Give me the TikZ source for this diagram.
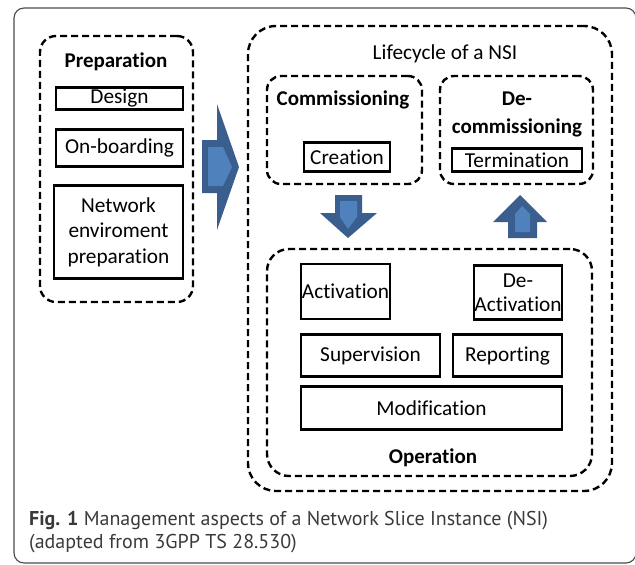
\documentclass[tikz,border=0pt]{standalone}
\usepackage{fontspec}
\setmainfont{Carlito}[Ligatures={NoCommon}]
\newfontfamily\capfont{PT Sans}
\definecolor{arrowfill}{HTML}{4F81BD}
\definecolor{arrowline}{HTML}{3A5F8E}
\definecolor{framecol}{HTML}{4A4A4A}
\definecolor{captext}{HTML}{3A3A3A}
\begin{document}
\begin{tikzpicture}[x=1pt,y=-1pt,
  dbox/.style={draw,dash pattern=on 7pt off 4pt,line width=2.4pt,rounded corners=#1,inner sep=0pt},
  sbox/.style={draw,line width=2.2pt,inner sep=0pt,align=center,font=\fontsize{21.3}{25}\selectfont},
  ttl/.style={font=\bfseries\fontsize{21}{28}\selectfont,align=center,inner sep=0pt},
  plain/.style={font=\fontsize{21.3}{25}\selectfont,align=center,inner sep=0pt},
  captxt/.style={anchor=west,inner sep=0pt,text=captext,font=\capfont\fontsize{20}{23}\selectfont},
  arrowdark/.style={fill=arrowline},
  arrowlight/.style={fill=arrowfill}
]
\useasboundingbox (0,0) rectangle (635,565);
% outer frame
\draw[framecol,line width=1.1pt,rounded corners=10pt] (14,8) rectangle (636,563);

% containers
\node[dbox=16pt,minimum width=153pt,minimum height=266pt] (prep) at (116.5,169) {};
\node[dbox=28pt,minimum width=364pt,minimum height=465pt] (life) at (430,258.5) {};
\node[dbox=14pt,minimum width=155pt,minimum height=108pt] (comm) at (344.5,130) {};
\node[dbox=14pt,minimum width=153pt,minimum height=108pt] (decomm) at (516.5,130) {};
\node[dbox=22pt,minimum width=325pt,minimum height=227pt] (oper) at (429.5,362.5) {};

% titles
\node[ttl] (preptitle) at (116,62) {Preparation};
\node[plain] (lifetitle) at (445,54) {Lifecycle of a NSI};
\node[ttl] (commtitle) at (343,100) {Commissioning};
\node[ttl] (decommtitle) at (517,114) {De-\\commissioning};
\node[ttl] (opertitle) at (433,458) {Operation};

% solid boxes
\node[sbox,minimum width=127pt,minimum height=22pt] (design) at (119.5,98.5) {Design};
\node[sbox,minimum width=127pt,minimum height=37pt] (onboard) at (119.5,148) {On-boarding};
\node[sbox,minimum width=129pt,minimum height=93pt,font=\fontsize{21.3}{25.5}\selectfont] (netenv) at (118.5,232) {Network\\enviroment\\preparation};
\node[sbox,minimum width=86pt,minimum height=29pt] (creation) at (347,157) {Creation};
\node[sbox,minimum width=130pt,minimum height=23pt] (termination) at (517,160) {Termination};
\node[sbox,minimum width=89pt,minimum height=55pt] (activation) at (345.5,291.5) {Activation};
\node[sbox,minimum width=88pt,minimum height=54pt,font=\fontsize{21.3}{24}\selectfont] (deact) at (518,292.5) {De-\\Activation};
\node[sbox,minimum width=139pt,minimum height=42pt] (superv) at (370.5,355.5) {Supervision};
\node[sbox,minimum width=109pt,minimum height=42pt] (report) at (507.5,355.5) {Reporting};
\node[sbox,minimum width=261pt,minimum height=43pt] (modif) at (431.5,408) {Modification};

% block arrows
\fill[arrowdark] (202,140) -- (217,140) -- (217,104) -- (239,167) -- (217,230) -- (217,193) -- (202,193) -- cycle;
\fill[arrowlight] (208,147) -- (223,147) -- (232,167) -- (223,186) -- (208,186) -- cycle;

\fill[arrowdark] (335,195) -- (362,195) -- (362,213) -- (377,213) -- (348,238) -- (320,213) -- (335,213) -- cycle;
\fill[arrowlight] (340,201) -- (357,201) -- (357,217) -- (348,229) -- (340,217) -- cycle;

\fill[arrowdark] (520,195) -- (547,222) -- (537,222) -- (537,238) -- (508,238) -- (508,222) -- (493,222) -- cycle;
\fill[arrowlight] (522,206) -- (530,214) -- (530,232) -- (515,232) -- (515,214) -- cycle;

% caption
\node[captxt] (cap1) at (29,521) {\textbf{Fig. 1} Management aspects of a Network Slice Instance (NSI)};
\node[captxt] (cap2) at (29,544) {(adapted from 3GPP TS 28.530)};
\end{tikzpicture}
\end{document}
